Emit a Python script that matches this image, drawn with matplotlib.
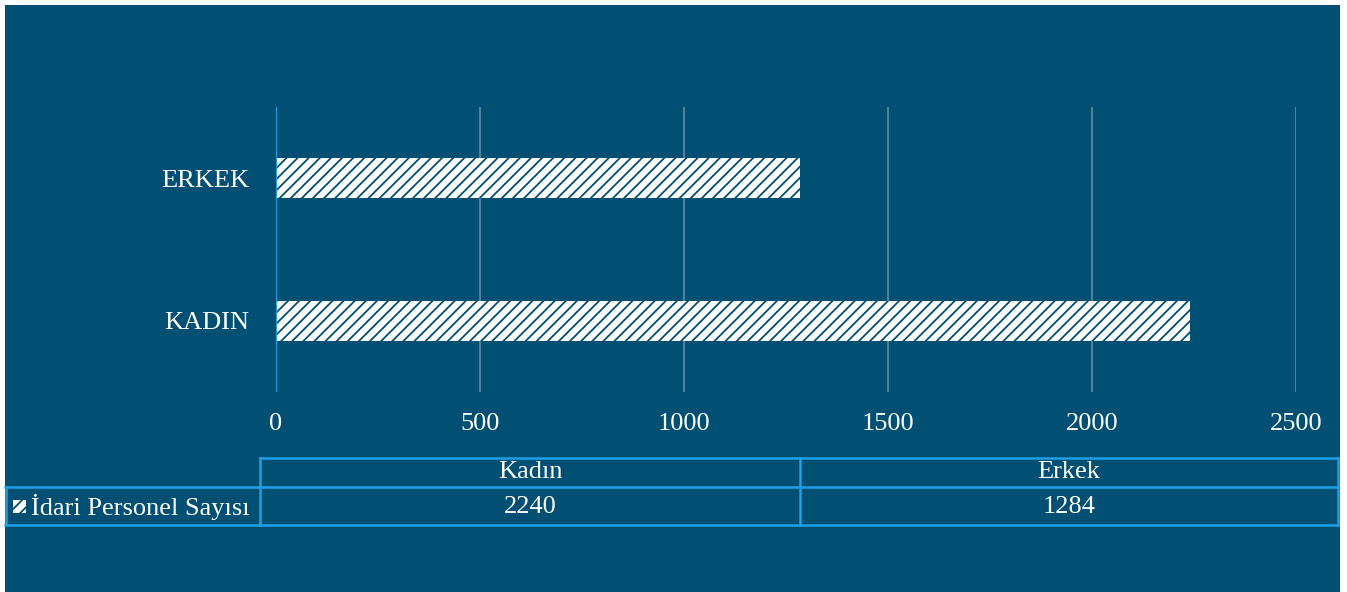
import matplotlib.pyplot as plt
from matplotlib.patches import Rectangle
from matplotlib.lines import Line2D

# data
categories = ["KADIN", "ERKEK"]
table_cols = ["Kadın", "Erkek"]
values = [2240, 1284]
series_name = "İdari Personel Sayısı"
xticks = [0, 500, 1000, 1500, 2000, 2500]

BG = "#014F73"
LINE = "#1FA0E6"
GRID = "#4E7F9B"
W, H = 1347, 592
FS = 19

plt.rcParams["font.family"] = ["Liberation Serif", "DejaVu Serif"]
plt.rcParams["hatch.linewidth"] = 1.3


def main():
    fig = plt.figure(figsize=(W / 100, H / 100), dpi=100, facecolor="white")

    # dark panel behind everything
    fig.patches.append(Rectangle((5 / W, 0), 1335 / W, 587 / H,
                                 transform=fig.transFigure, facecolor=BG,
                                 edgecolor="none", zorder=-5))

    ax = fig.add_axes([276 / W, 1 - 392 / H, 1020 / W, 285 / H])
    ax.set_facecolor("none")
    ax.set_zorder(2)

    ax.barh(range(len(categories)), values, height=0.28, color="white",
            edgecolor=BG, linewidth=0, hatch="///", zorder=3)

    ax.set_xlim(0, 2500)
    ax.set_ylim(-0.5, 1.5)
    ax.set_xticks(xticks)
    ax.set_xticklabels([str(t) for t in xticks])
    ax.set_yticks(range(len(categories)))
    ax.set_yticklabels(categories)
    ax.tick_params(axis="both", length=0, colors="white", labelsize=FS)
    ax.tick_params(axis="y", pad=19)
    ax.tick_params(axis="x", pad=15)

    ax.grid(axis="x", color=GRID, linewidth=1.5, zorder=1)
    for s in ax.spines.values():
        s.set_visible(False)
    ax.axvline(0, color=LINE, linewidth=1.5, zorder=4)

    # data table under the axis
    def hline(y, x0, x1):
        fig.add_artist(Line2D([x0 / W, x1 / W], [1 - y / H, 1 - y / H],
                              color=LINE, linewidth=1.8))

    def vline(x, y0, y1):
        fig.add_artist(Line2D([x / W, x / W], [1 - y0 / H, 1 - y1 / H],
                              color=LINE, linewidth=1.8))

    hline(458, 260, 1338)
    hline(487, 5, 1338)
    hline(525, 5, 1338)
    vline(260, 458, 525)
    vline(800, 458, 525)
    vline(1338, 458, 525)
    vline(6, 487, 525)

    col_centers = [530, 1069]
    for cx, name, v in zip(col_centers, table_cols, values):
        fig.text(cx / W, 1 - 472 / H, name, color="white", fontsize=FS,
                 ha="center", va="center")
        fig.text(cx / W, 1 - 507 / H, str(v), color="white", fontsize=FS,
                 ha="center", va="center")

    # legend key inside the table
    fig.patches.append(Rectangle((13 / W, 1 - 513 / H), 13 / W, 13 / H,
                                 transform=fig.transFigure, facecolor="white",
                                 edgecolor=BG, linewidth=0, hatch="///"))
    fig.text(31 / W, 1 - 507 / H, series_name, color="white", fontsize=FS,
             ha="left", va="center")

    fig.savefig("out.png", dpi=100, facecolor="white")


if __name__ == "__main__":
    main()
